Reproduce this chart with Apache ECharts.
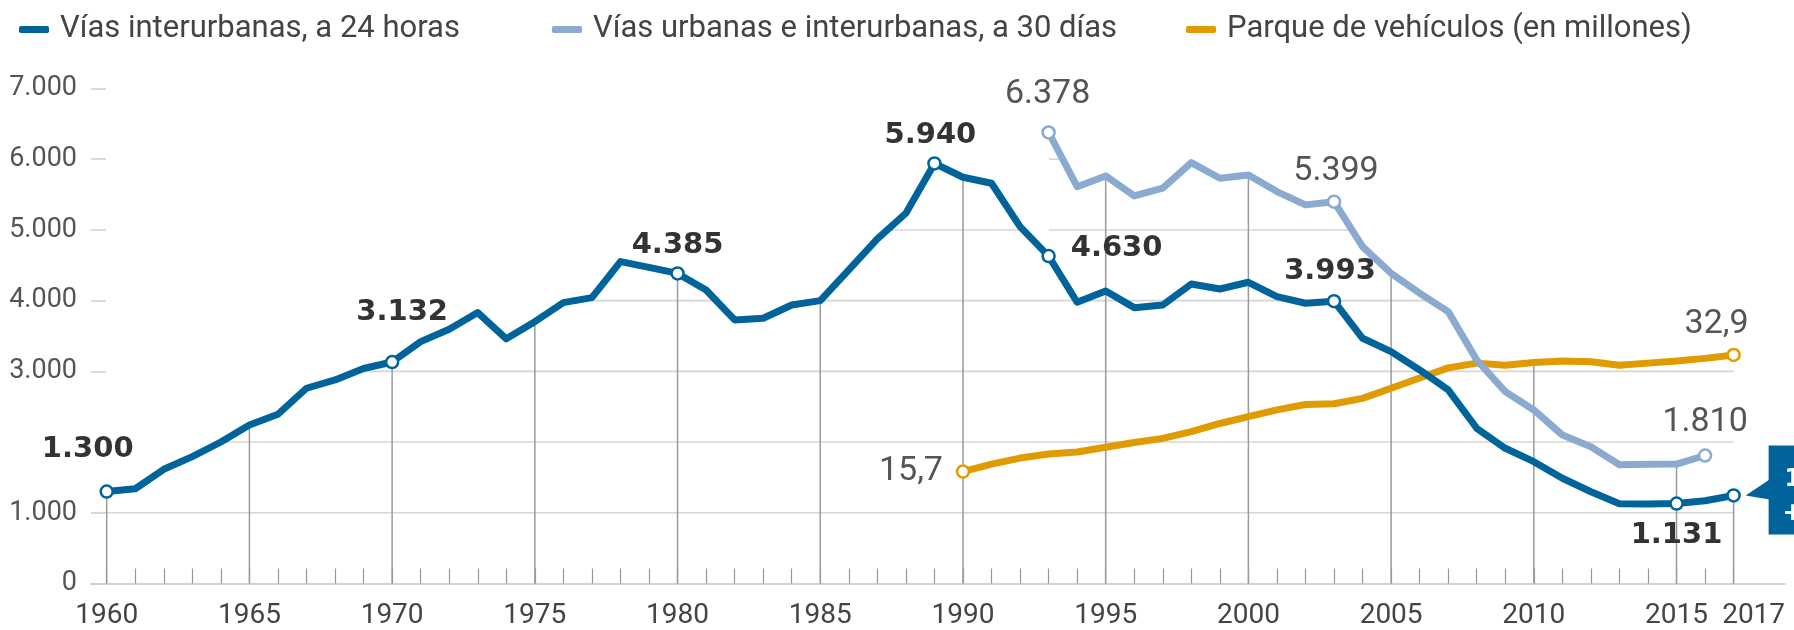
<!DOCTYPE html>
<html>
<head>
<meta charset="utf-8">
<script src="https://cdn.jsdelivr.net/npm/echarts@6/dist/echarts.min.js"></script>
<style>
  html, body { margin: 0; padding: 0; background: #fff; }
  #chart { width: 1794px; height: 630px; }
</style>
</head>
<body>
<div id="chart"></div>
<script>
// Fallecidos en vías interurbanas (a 24 horas), 1960–2017
const darkStart = 1960;
const deaths24h = [
  1300, 1340, 1615, 1794, 2001, 2242, 2393, 2761, 2878, 3040,
  3132, 3420, 3595, 3831, 3460, 3703, 3972, 4043, 4552, 4470,
  4385, 4150, 3727, 3751, 3939, 4000, 4434, 4873, 5236, 5940,
  5745, 5660, 5047, 4630, 3977, 4137, 3901, 3939, 4236, 4165,
  4260, 4057, 3963, 3993, 3468, 3279, 3020, 2737, 2195, 1912,
  1723, 1488, 1298, 1128, 1125, 1131, 1171, 1245
];

// Fallecidos en vías urbanas e interurbanas (a 30 días), 1993–2016
const lightStart = 1993;
const deaths30d = [
  6378, 5612, 5764, 5481, 5590, 5952, 5731, 5778, 5542, 5354,
  5399, 4764, 4387, 4105, 3845, 3161, 2713, 2454, 2100, 1935,
  1680, 1688, 1689, 1810
];

// Parque de vehículos en millones, 1990–2017
const fleetStart = 1990;
const fleet = [
  15.7, 16.8, 17.7, 18.3, 18.6, 19.3, 20.0, 20.6, 21.6, 22.8,
  23.8, 24.8, 25.6, 25.7, 26.5, 28.0, 29.5, 31.0, 31.7, 31.4,
  31.8, 32.0, 31.9, 31.4, 31.7, 32.0, 32.4, 32.9
];

const seriesNames = [
  'Vías interurbanas, a 24 horas',
  'Vías urbanas e interurbanas, a 30 días',
  'Parque de vehículos (en millones)'
];
const xLabelYears = [1960, 1965, 1970, 1975, 1980, 1985, 1990, 1995, 2000, 2005, 2010, 2015, 2017];
const yLabelValues = [0, 1000, 3000, 4000, 5000, 6000, 7000];
const gridLevels = [1000, 2000, 3000, 4000, 5000, 6000, 7000];

// Vertical guides: year and the line they climb up to
const guideYears = [1960, 1965, 1970, 1975, 1980, 1985, 1990, 1995, 2000, 2005, 2010, 2015, 2017];
const guideReach = ['dark', 'dark', 'dark', 'dark', 'dark', 'dark', 'dark', 'light', 'light', 'light', 'fleet', 'light', 'dark'];

// Annotated years and where their value text sits relative to the point
const darkMarks  = { 1960: [-19, -42], 1970: [10, -50], 1980: [0, -28], 1989: [-4, -28], 1993: [68, -8], 2003: [-4, -30], 2015: [0, 32], 2017: null };
const lightMarks = { 1993: [-1, -38], 2003: [2, -30], 2016: [0, -33] };
const fleetMarks = { 1990: [-52, 0], 2017: [-17, -30] };

// Left edge of each legend entry
const legendLefts = [14, 547, 1181];

const C_DARK = '#00649b';
const C_LIGHT = '#8aaad0';
const C_FLEET = '#e09b00';

const Y_MAX = 7000;
const FLEET_MIN = -0.8, FLEET_MAX = 72.2;
const X_MIN = 1959.45, X_MAX = 2018.8;

const fmtThousands = v => String(Math.round(v)).replace(/\B(?=(\d{3})+(?!\d))/g, '.');
const fmtDecimal = v => v.toFixed(1).replace('.', ',');

const boldLabel = { fontFamily: 'DejaVu Sans', fontWeight: 'bold', fontSize: 29, color: '#333' };
const plainLabel = { fontFamily: 'Roboto', fontWeight: 'normal', fontSize: 34, color: '#555' };
const yearFont = { fontFamily: 'Roboto', fontSize: 28, color: '#444' };

function buildData(start, values, marks, color, fmt, labelStyle) {
  return values.map((v, i) => {
    const yr = start + i;
    if (!(yr in marks)) return { value: [yr, v], symbol: 'none' };
    const item = {
      value: [yr, v],
      symbol: 'circle',
      symbolSize: 12,
      itemStyle: { color: '#fff', borderColor: color, borderWidth: 2.5 }
    };
    if (marks[yr]) {
      item.label = Object.assign({ show: true, position: 'inside', offset: marks[yr], formatter: () => fmt(v) }, labelStyle);
    }
    return item;
  });
}

// Value of a series at a (possibly fractional) year, in left-axis units
function seriesAt(start, values, scale, yr) {
  const t = yr - start;
  if (t < 0 || t > values.length - 1) return -Infinity;
  const i = Math.min(Math.floor(t), values.length - 2);
  const f = t - i;
  return scale(values[i] * (1 - f) + values[i + 1] * f);
}
const fleetToLeft = v => (v - FLEET_MIN) / (FLEET_MAX - FLEET_MIN) * Y_MAX;
const ident = v => v;
const valueAt = {
  dark: yr => seriesAt(darkStart, deaths24h, ident, yr),
  light: yr => seriesAt(lightStart, deaths30d, ident, yr),
  fleet: yr => seriesAt(fleetStart, fleet, fleetToLeft, yr)
};
const envelope = yr => Math.max(valueAt.dark(yr), valueAt.light(yr), valueAt.fleet(yr));

// Horizontal grid segments: visible only beneath the lines
const guideSegments = [];
const lastYear = darkStart + deaths24h.length - 1;
gridLevels.forEach(level => {
  let runStart = null;
  const step = 0.01;
  for (let yr = darkStart; yr <= lastYear + 1e-9; yr += step) {
    const on = envelope(yr) >= level;
    if (on && runStart === null) runStart = yr;
    if ((!on || yr + step > lastYear + 1e-9) && runStart !== null) {
      const end = on ? lastYear : yr - step;
      const from = (runStart === darkStart) ? X_MIN : runStart;
      guideSegments.push([from, level, end, level, 0]);
      runStart = null;
    }
  }
});
// Vertical guides from the baseline up to the chosen line
guideYears.forEach((yr, i) => {
  guideSegments.push([yr, 0, yr, valueAt[guideReach[i]](yr), 1]);
});

const tickYears = [];
for (let y = darkStart; y <= lastYear; y++) tickYears.push(y);

const chart = echarts.init(document.getElementById('chart'), null, { renderer: 'canvas' });

chart.setOption({
  animation: false,
  backgroundColor: '#fff',
  textStyle: { fontFamily: 'Roboto' },
  legend: seriesNames.map((name, i) => ({
    data: [name],
    left: legendLefts[i], top: 9,
    icon: 'roundRect',
    itemWidth: 30, itemHeight: 7,
    textStyle: { fontFamily: 'Roboto', fontSize: 31, color: '#444', padding: [0, 0, 0, 6] },
    selectedMode: false
  })),
  grid: { left: 91, right: 9, top: 88.5, bottom: 46.5, containLabel: false, outerBoundsMode: 'none' },
  xAxis: {
    type: 'value', min: X_MIN, max: X_MAX,
    axisLine: { show: true, lineStyle: { color: '#c4c4c4', width: 1.5 } },
    axisTick: { show: true, inside: true, length: 15, customValues: tickYears, lineStyle: { color: '#9a9a9a', width: 1.2 } },
    axisLabel: Object.assign({
      show: true, customValues: xLabelYears, hideOverlap: false, margin: 18,
      // the closing year sits just right of its tick so it clears the previous label
      formatter: v => (v === lastYear ? '{shift|' + v + '}' : String(v)),
      rich: { shift: Object.assign({ padding: [0, 0, 0, 40] }, yearFont) }
    }, yearFont),
    splitLine: { show: false }
  },
  yAxis: [{
    type: 'value', min: 0, max: Y_MAX, interval: 1000,
    axisLine: { show: false },
    axisTick: { show: true, inside: true, length: 15, customValues: yLabelValues, lineStyle: { color: '#d0d0d0', width: 1.5 } },
    axisLabel: { show: true, customValues: yLabelValues, formatter: v => fmtThousands(v), fontFamily: 'Roboto', fontSize: 27, color: '#555', margin: 14 },
    splitLine: { show: false }
  }, {
    type: 'value', min: FLEET_MIN, max: FLEET_MAX, show: false,
    splitLine: { show: false }
  }],
  series: [
    {
      type: 'custom',
      name: 'guides',
      xAxisIndex: 0, yAxisIndex: 0,
      z: 1, silent: true,
      data: guideSegments,
      renderItem: (params, api) => {
        const p1 = api.coord([api.value(0), api.value(1)]);
        const p2 = api.coord([api.value(2), api.value(3)]);
        const vertical = api.value(4) === 1;
        return {
          type: 'line',
          shape: { x1: p1[0], y1: p1[1], x2: p2[0], y2: p2[1] },
          style: { stroke: vertical ? '#9a9a9a' : '#d6d6d6', lineWidth: vertical ? 1.5 : 1.6 }
        };
      }
    },
    {
      type: 'line', name: seriesNames[2], yAxisIndex: 1, z: 2,
      data: buildData(fleetStart, fleet, fleetMarks, C_FLEET, fmtDecimal, plainLabel),
      color: C_FLEET,
      lineStyle: { color: C_FLEET, width: 7, join: 'round', cap: 'round' },
      itemStyle: { color: C_FLEET },
      showSymbol: true, emphasis: { disabled: true }
    },
    {
      type: 'line', name: seriesNames[1], yAxisIndex: 0, z: 3,
      data: buildData(lightStart, deaths30d, lightMarks, C_LIGHT, fmtThousands, plainLabel),
      color: C_LIGHT,
      lineStyle: { color: C_LIGHT, width: 7, join: 'round', cap: 'round' },
      itemStyle: { color: C_LIGHT },
      showSymbol: true, emphasis: { disabled: true }
    },
    {
      type: 'line', name: seriesNames[0], yAxisIndex: 0, z: 4,
      data: buildData(darkStart, deaths24h, darkMarks, C_DARK, fmtThousands, boldLabel),
      color: C_DARK,
      lineStyle: { color: C_DARK, width: 7, join: 'round', cap: 'round' },
      itemStyle: { color: C_DARK },
      showSymbol: true, emphasis: { disabled: true }
    }
  ]
});

// Call-out box for the latest year, pointing at its point
const lastVal = deaths24h[deaths24h.length - 1];
const prevVal = deaths24h[deaths24h.length - 2];
const pt = chart.convertToPixel({ xAxisIndex: 0, yAxisIndex: 0 }, [lastYear, lastVal]);
const boxLeft = pt[0] + 35;
const change = Math.round((lastVal / prevVal - 1) * 100);
chart.setOption({
  graphic: [
    { type: 'rect', z: 10, shape: { x: boxLeft, y: pt[1] - 50, width: 80, height: 89 }, style: { fill: C_DARK } },
    { type: 'polygon', z: 10, shape: { points: [[pt[0] + 12, pt[1]], [boxLeft + 1, pt[1] - 16], [boxLeft + 1, pt[1] + 4]] }, style: { fill: C_DARK } },
    { type: 'text', z: 11, x: boxLeft + 16, y: pt[1] - 28, style: { text: fmtThousands(lastVal), fill: '#fff', font: 'bold 24px "DejaVu Sans"' } },
    { type: 'text', z: 11, x: boxLeft + 14, y: pt[1] + 6, style: { text: '+' + change + '%', fill: '#fff', font: 'bold 24px "DejaVu Sans"' } }
  ]
});
</script>
</body>
</html>
